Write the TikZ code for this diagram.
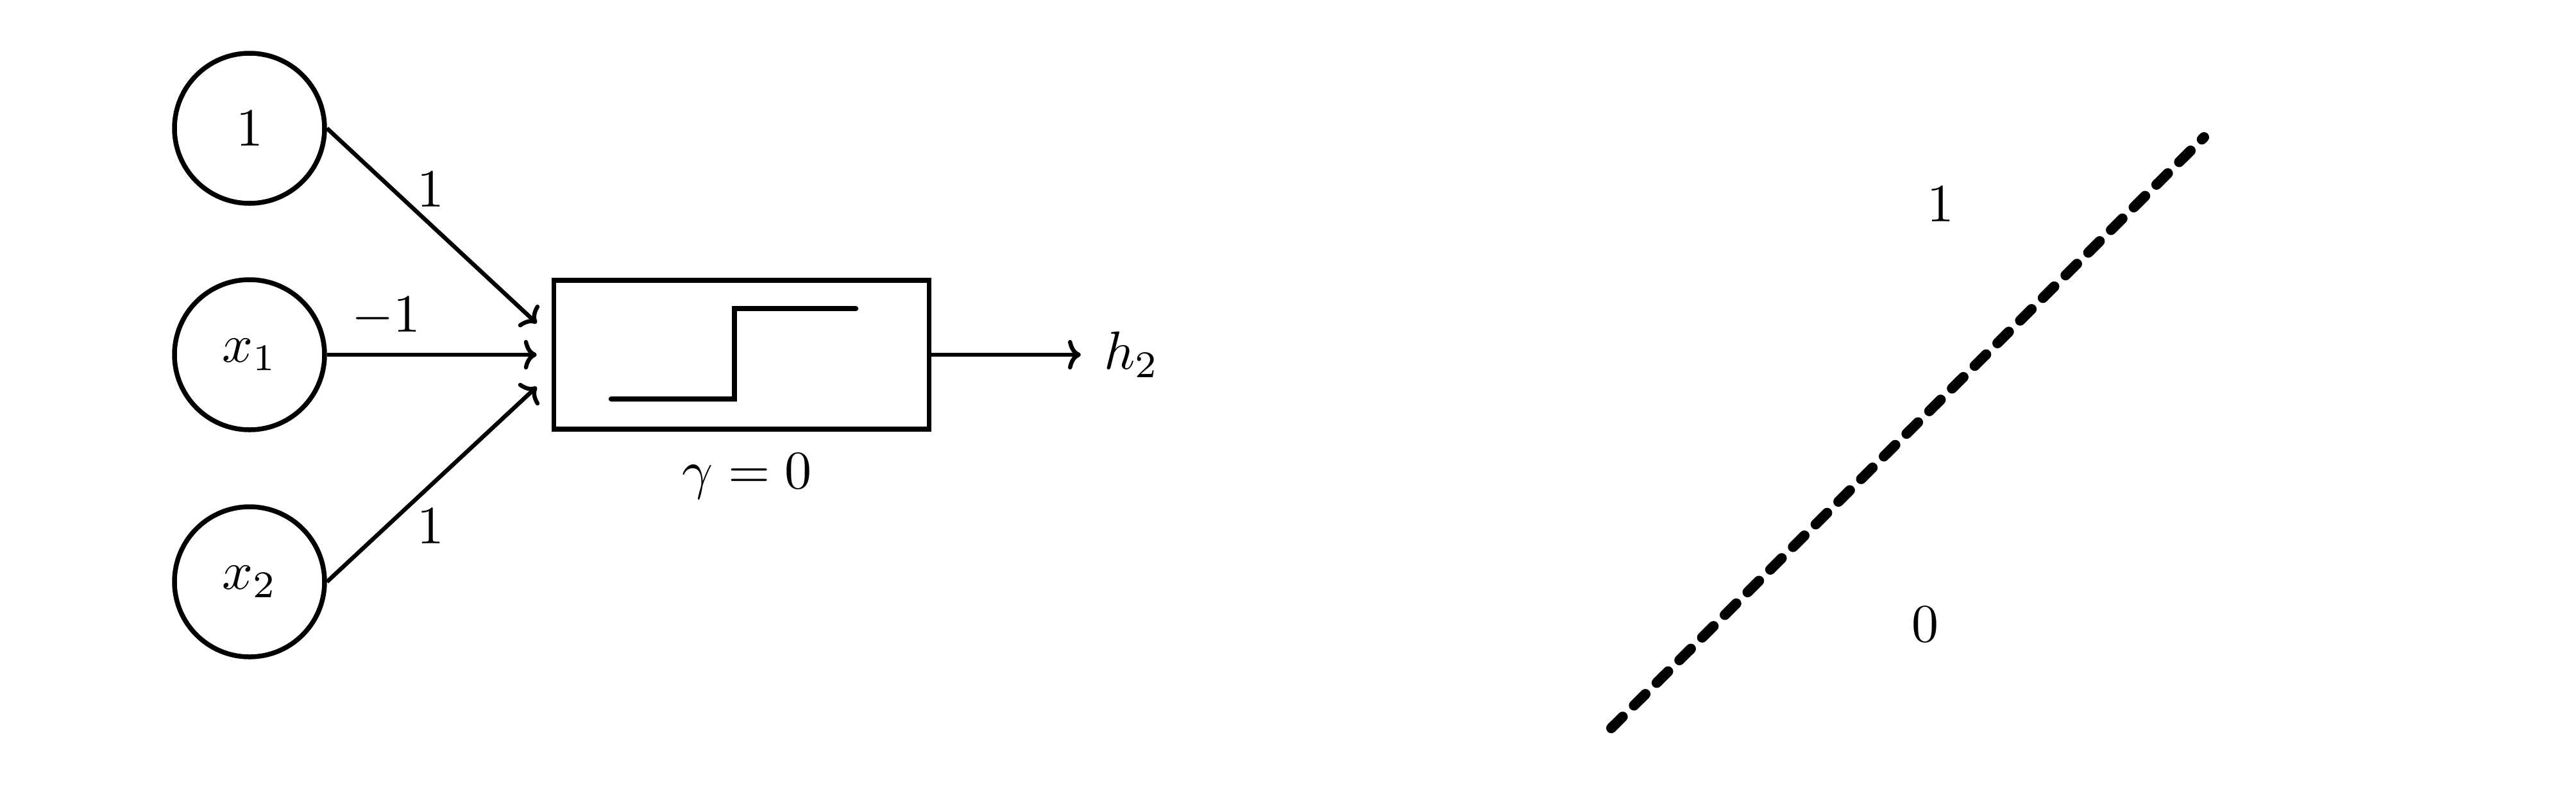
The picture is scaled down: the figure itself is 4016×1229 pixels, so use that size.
\documentclass[tikz,border=0pt]{standalone}
\usetikzlibrary{calc,arrows.meta}
\newcommand\biglbl[1]{\scalebox{8.4}{$#1$}}
\begin{document}
\begin{tikzpicture}[x=1pt,y=-1pt,
  unit/.style={draw,circle,line width=7.5pt,minimum size=234pt,inner sep=0pt},
  boxnode/.style={draw,rectangle,line width=7.5pt,minimum width=585pt,minimum height=232pt,inner sep=0pt},
  conn/.style={line width=6.5pt,-{To[length=20pt,width=46pt]}},
  steppath/.style={line width=8.5pt,line cap=round},
  lab/.style={inner sep=0pt}]
\useasboundingbox (0,0) rectangle (4016,1229);
\node[unit] (c1) at (389,200) {\biglbl{1}};
\node[unit] (cx1) at (389,553) {\biglbl{x_1}};
\node[unit] (cx2) at (389,907) {\biglbl{x_2}};
\node[boxnode] (box) at (1156,553) {};
\node[lab,anchor=west] (h2) at (1721,553) {\biglbl{h_2}};
\coordinate (in1) at ($(box.west)+(-23,-49)$);
\coordinate (in2) at ($(box.west)+(-23,0)$);
\coordinate (in3) at ($(box.west)+(-23,50)$);
\draw[conn] (c1.east) -- (in1);
\draw[conn] (cx1.east) -- (in2);
\draw[conn] (cx2.east) -- (in3);
\draw[conn] (box.east) -- ($(h2.west)+(-36,0)$);
\draw[steppath] (953,622) -- (1145,622) -- (1145,481) -- (1334,481);
\node[lab] (w1) at (671,295) {\biglbl{1}};
\node[lab] (w2) at (602,494) {\biglbl{-1}};
\node[lab] (w3) at (671,820) {\biglbl{1}};
\node[lab] (gam) at (1165,743) {\biglbl{\gamma=0}};
\coordinate (d1) at (2512,1135);
\coordinate (d2) at (3436,214);
\draw[line width=16pt,line cap=round,dash pattern=on 25pt off 25pt] (d1) -- (d2);
\node[lab] (r1) at (3025,318) {\biglbl{1}};
\node[lab] (r0) at (3001,973) {\biglbl{0}};
\end{tikzpicture}
\end{document}
